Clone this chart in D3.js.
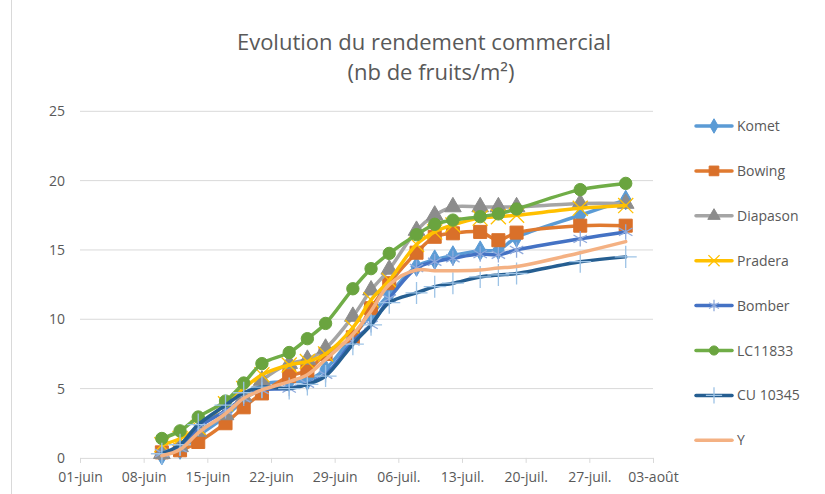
<html>
<head>
<meta charset="utf-8">
<script src="https://d3js.org/d3.v7.min.js"></script>
<style>
body { margin:0; background:#fff; }
text { font-family: "Open Sans", "Noto Sans", sans-serif; fill:#595959; }
</style>
</head>
<body>
<svg width=825 height=494></svg>
<script>

// dates of the counts (2019)
var dates = ["2019-06-10","2019-06-12","2019-06-14","2019-06-17","2019-06-19","2019-06-21",
             "2019-06-24","2019-06-26","2019-06-28","2019-07-01","2019-07-03","2019-07-05",
             "2019-07-08","2019-07-10","2019-07-12","2019-07-15","2019-07-17","2019-07-19",
             "2019-07-26","2019-07-31"];

var komet    = [0.2,0.6,1.6,3.0,4.2,5.3,5.5,5.6,6.4,8.8,10.3,11.8,13.8,14.3,14.6,14.95,15.0,15.9,17.5,18.6];
var bowing   = [0.4,0.55,1.15,2.5,3.65,4.65,5.9,6.3,7.5,8.7,10.8,12.6,14.8,15.95,16.2,16.3,15.7,16.25,16.75,16.75];
var diapason = [0.3,0.8,1.9,3.1,4.4,5.6,6.8,7.1,7.9,10.2,12.1,13.6,16.4,17.5,18.1,18.1,18.1,18.1,18.35,18.35];
var pradera  = [0.95,1.4,2.2,3.9,5.0,6.0,6.7,6.95,7.5,9.4,11.4,12.8,15.4,16.3,16.8,17.3,17.4,17.5,18.0,18.2];
var bomber   = [0.35,0.7,2.2,3.4,4.3,4.9,5.0,5.35,6.0,8.4,9.6,11.5,13.7,14.15,14.4,14.7,14.65,15.0,15.8,16.3];
var lc11833  = [1.4,1.95,2.95,4.1,5.4,6.8,7.6,8.6,9.7,12.2,13.65,14.75,16.1,16.85,17.15,17.4,17.6,17.95,19.35,19.8];
var cu10345  = [0.3,0.95,2.4,3.8,4.7,5.1,5.0,5.3,5.9,8.2,9.6,11.2,11.9,12.35,12.6,13.05,13.2,13.3,14.15,14.5];
var yser     = [0.15,0.6,1.8,3.2,4.3,4.9,5.5,6.0,7.1,8.9,10.6,12.5,13.55,13.5,13.5,13.55,13.7,13.8,14.8,15.6];

var names   = ["Komet","Bowing","Diapason","Pradera","Bomber","LC11833","CU 10345","Y"];
var values  = [komet, bowing, diapason, pradera, bomber, lc11833, cu10345, yser];
var colors  = ["#5B9BD5","#E07A30","#A5A5A5","#FFC000","#4472C4","#70AD47","#255E91","#F4B183"];
var markerCol = ["#5B9BD5","#D9702A","#8C8C8C","#FFC000","#8FAADC","#6AA43F","#9DC3E6",null];
var symbols = [d3.symbolDiamond, d3.symbolSquare, d3.symbolTriangle, d3.symbolTimes,
               d3.symbolAsterisk, d3.symbolCircle, d3.symbolPlus, null];
var symSize = [110, 170, 120, 150, 170, 120, 160, 0];
var strokeSym = [false,false,false,true,true,false,true,false];

var yticks = [0,5,10,15,20,25];

var parse = d3.timeParse("%Y-%m-%d");
var fr = d3.timeFormatLocale({
  dateTime:"%A %e %B %Y à %X", date:"%d/%m/%Y", time:"%H:%M:%S", periods:["AM","PM"],
  days:["dimanche","lundi","mardi","mercredi","jeudi","vendredi","samedi"],
  shortDays:["dim.","lun.","mar.","mer.","jeu.","ven.","sam."],
  months:["janvier","février","mars","avril","mai","juin","juillet","août","septembre","octobre","novembre","décembre"],
  shortMonths:["janv.","févr.","mars","avr.","mai","juin","juil.","août","sept.","oct.","nov.","déc."]
});

// scales
var x = d3.scaleTime().domain([parse("2019-06-01"), parse("2019-08-03")]).range([80,653]);
var y = d3.scaleLinear().domain([0,25]).range([457.9,111.3]);
var xticks = d3.range(0,10).map(function(i){ return d3.timeDay.offset(parse("2019-06-01"), 7*i); });

var svg = d3.select("svg");

// chart frame
svg.append("line").attr("x1",11.5).attr("x2",11.5).attr("y1",0).attr("y2",494)
  .style("stroke","#d9d9d9");

// title
svg.append("text").attr("x",424).attr("y",50).attr("text-anchor","middle")
  .attr("font-size","22px").text("Evolution du rendement commercial");
svg.append("text").attr("x",431).attr("y",80).attr("text-anchor","middle")
  .attr("font-size","22px").text("(nb de fruits/m²)");

// gridlines
svg.append("g").selectAll("line").data(yticks.slice(1)).enter().append("line")
  .attr("x1",80).attr("x2",653)
  .attr("y1",function(d){return y(d);}).attr("y2",function(d){return y(d);})
  .style("stroke","#d9d9d9");

// y labels
svg.append("g").selectAll("text").data(yticks).enter().append("text")
  .attr("x",65).attr("y",function(d){return y(d)+5;})
  .attr("text-anchor","end").attr("font-size","14px")
  .text(function(d){return d;});

// x axis
var xa = svg.append("g").attr("transform","translate(0,457.9)")
  .call(d3.axisBottom(x).tickValues(xticks).tickFormat(fr.format("%d-%b")).tickSize(5).tickPadding(9));
xa.select(".domain").style("stroke","#d9d9d9");
xa.selectAll(".tick line").style("stroke","#d9d9d9");
xa.selectAll(".tick text").attr("font-size","14px").style("font-family","'Open Sans', sans-serif").style("fill","#595959");

// series
var line = d3.line().curve(d3.curveCatmullRom)
  .x(function(d){return x(d.date);}).y(function(d){return y(d.v);});

function marker(g, i, size) {
  var p = d3.symbol().type(symbols[i]).size(size)();
  var m = g.append("path").attr("d", p);
  if (strokeSym[i]) m.style("fill","none").style("stroke",markerCol[i]).style("stroke-width",1.3);
  else m.style("fill",markerCol[i]).style("stroke",markerCol[i]);
  return m;
}

values.forEach(function(vals, i) {
  var pts = vals.map(function(v,j){ return {date: parse(dates[j]), v: v}; });
  var g = svg.append("g");
  g.append("path").datum(pts).attr("d", line)
    .style("fill","none").style("stroke",colors[i]).style("stroke-width",3.5)
    .style("stroke-linejoin","round").style("stroke-linecap","round");
  if (symbols[i]) {
    pts.forEach(function(d) {
      marker(g, i, symSize[i]).attr("transform","translate(" + x(d.date) + "," + y(d.v) + ")");
    });
  }
});

// legend
var leg = svg.append("g");
names.forEach(function(n, i) {
  var ly = 126 + i*44.9;
  leg.append("line").attr("x1",696).attr("x2",732).attr("y1",ly).attr("y2",ly)
    .style("stroke",colors[i]).style("stroke-width",3.5).style("stroke-linecap","round");
  if (symbols[i]) marker(leg, i, symSize[i]*0.55).attr("transform","translate(714," + ly + ")");
  leg.append("text").attr("x",737).attr("y",ly+5).attr("font-size","14px").text(n);
});

</script>
</body>
</html>
